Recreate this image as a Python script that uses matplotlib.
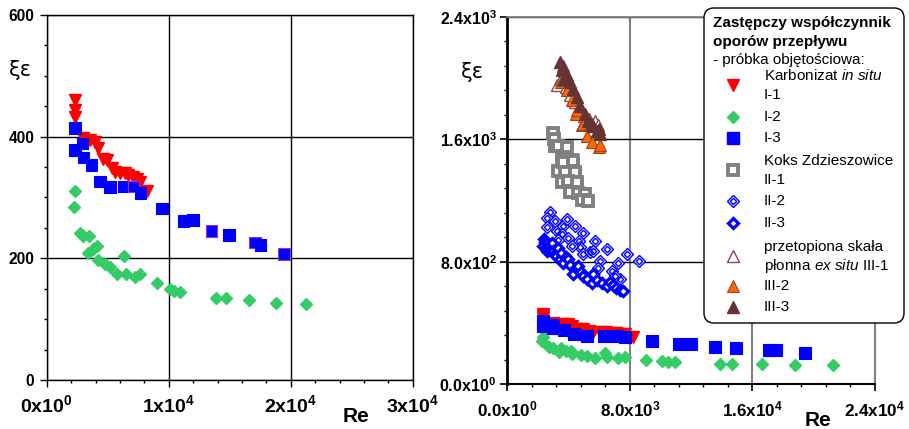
import matplotlib
matplotlib.use('Agg')
import matplotlib.pyplot as plt
from matplotlib.patches import FancyBboxPatch
from matplotlib.ticker import FuncFormatter, MultipleLocator
import numpy as np

plt.rcParams['font.family'] = ['Liberation Sans', 'DejaVu Sans']
plt.rcParams['mathtext.fontset'] = 'custom'
plt.rcParams['mathtext.rm'] = 'Liberation Sans'
plt.rcParams['mathtext.it'] = 'Liberation Sans:italic'
plt.rcParams['mathtext.bf'] = 'Liberation Sans:bold'

# ---------------- data ----------------
# Karbonizat in situ I-1
I1_re = [2300, 2320, 2330, 3000, 3550, 3960, 4230, 4640, 4920, 5330, 5600, 6010, 6420, 6690, 7100, 7380, 7650, 8200]
I1_xi = [460, 444, 432, 397, 395, 392, 381, 364, 362, 348, 342, 340, 340, 337, 334, 331, 326, 310]
# I-2
I2_re = [2320, 2260, 2730, 2950, 3490, 3360, 3820, 4150, 4230, 4780, 5190, 5740, 6340, 6500, 7240, 7650,
         9070, 10100, 10460, 10930, 13850, 14670, 16610, 18800, 21230]
I2_xi = [311, 285, 241, 236, 236, 208, 215, 220, 197, 191, 186, 174, 204, 175, 170, 175,
         159, 149, 147, 145, 134, 135, 132, 127, 125]
# I-3
I3_re = [2320, 2320, 2950, 3000, 3690, 4370, 5190, 6280, 7100, 7700, 9430, 11200, 12000, 13520,
         14940, 17070, 17540, 19450]
I3_xi = [414, 378, 389, 366, 353, 326, 317, 318, 318, 307, 282, 261, 263, 245, 238, 226, 222, 207]
I3_outline = [0, 0, 0, 0, 0, 0, 0, 0, 1, 0, 0, 0, 0, 1, 0, 1, 0, 1]

# Koks Zdzieszowice II-1
II1_re = [2990, 3040, 3100, 3320, 3870, 3540, 4190, 3320, 3750, 4410, 3540, 3970, 4520, 4080,
          4620, 5060, 4850, 5280, 3650, 4300]
II1_xi = [1640, 1602, 1558, 1558, 1550, 1471, 1465, 1394, 1394, 1383, 1320, 1325, 1318, 1254,
          1250, 1243, 1200, 1194, 1449, 1460]
# II-2
II2_re = [2780, 2560, 2560, 3100, 3210, 3650, 3870, 4410, 3540, 3970, 4950, 4690, 5710, 4730,
          4950, 5390, 5600, 6480, 6040, 5930, 7240, 7780, 8590, 6810, 7350, 7020, 3300, 4200]
II2_xi = [1128, 1084, 1027, 1066, 1001, 1033, 1077, 1033, 979, 957, 990, 935, 935, 898,
          848, 863, 870, 885, 804, 761, 793, 848, 808, 738, 688, 710, 940, 900]
# II-3
II3_re = [2400, 2450, 2350, 2500, 2600, 2550, 2700, 2800, 2900, 3000, 3100, 3200, 3300, 3400,
          3500, 3650, 3800, 3970, 4100, 4300, 4450, 4620, 4800, 4950, 5200, 5500, 5600, 5850,
          6150, 6480, 6700, 6910, 7100, 7350, 7560]
II3_xi = [950, 930, 905, 890, 870, 920, 900, 880, 925, 870, 850, 840, 890, 820,
          860, 790, 830, 815, 780, 717, 760, 771, 730, 706, 690, 662, 717, 680,
          662, 640, 670, 651, 630, 618, 607]
# przetopiona skała płonna ex situ III-1
III1_re = [3250, 3500, 3800, 4100, 4400, 4700, 5000, 5350, 5710, 5900]
III1_xi = [1951, 1990, 1940, 1890, 1840, 1790, 1750, 1730, 1722, 1690]
# III-2
III2_re = [3470, 3650, 3870, 4190, 4450, 4520, 4840, 4910, 5210, 5540, 5980, 6040]
III2_xi = [1974, 1984, 1919, 1853, 1766, 1790, 1694, 1700, 1624, 1580, 1547, 1560]
# III-3
III3_re = [3430, 3540, 3870, 4080, 4300, 4520, 4730, 5060, 5280, 5600, 5820, 6040, 3600, 3700, 5450, 5950]
III3_xi = [2105, 2050, 2017, 1974, 1930, 1875, 1820, 1766, 1722, 1689, 1656, 1635, 2080, 1990, 1700, 1670]

# ---------------- styles ----------------
RED = '#FF0000'
GREEN = '#33CC66'
BLUE = '#0000FF'
GREY = '#808080'
ORANGE = '#FF6600'
BROWN = '#663333'
PURPLE = '#9933CC'

fig = plt.figure(figsize=(9.09, 4.29), dpi=100)
W, H = 909, 429

def px_axes(l, t, r, b):
    return fig.add_axes([l / W, 1 - b / H, (r - l) / W, (b - t) / H])

axL = px_axes(46.7, 15, 412.7, 380)
axR = px_axes(507.5, 16.7, 875, 384.3)


def plot_I(ax, outline):
    ax.plot(I1_re, I1_xi, 'v', ms=9.2, mfc=RED, mec=RED, ls='none', zorder=3)
    ax.plot(I2_re, I2_xi, 'D', ms=6.6, mfc=GREEN, mec=GREEN, ls='none', zorder=3)
    if outline:
        ec = [PURPLE if f else BLUE for f in I3_outline]
    else:
        ec = BLUE
    ax.scatter(I3_re, I3_xi, marker='s', s=8.3 ** 2, c=BLUE, edgecolors=ec, linewidths=0.8, zorder=4)


plot_I(axL, True)

axR.plot(III1_re, III1_xi, '^', ms=8.6, mfc='white', mec='#8B4A4A', mew=1, ls='none', zorder=3)
axR.plot(III2_re, III2_xi, '^', ms=8.6, mfc=ORANGE, mec='#994422', mew=0.8, ls='none', zorder=3)
axR.plot(III3_re, III3_xi, '^', ms=8.6, mfc=BROWN, mec=BROWN, ls='none', zorder=3)
axR.plot(II1_re, II1_xi, 's', ms=7.4, mfc='white', mec=GREY, mew=2.8, ls='none', zorder=3)
axR.plot(II2_re, II2_xi, 'D', ms=6.5, mfc='white', mec=BLUE, mew=1.0, ls='none', zorder=3)
axR.plot(II2_re, II2_xi, 'D', ms=3.2, mfc='none', mec=BLUE, mew=1.0, ls='none', zorder=3)
axR.plot(II3_re, II3_xi, 'D', ms=5.4, mfc='white', mec=BLUE, mew=2.3, ls='none', zorder=3)
plot_I(axR, False)


def fmt_int(v, pos):
    if v == 0:
        return r'$\mathbf{0x10^{0}}$'
    e = int(np.floor(np.log10(abs(v)) + 1e-9))
    m = v / 10 ** e
    return r'$\mathbf{%dx10^{%d}}$' % (round(m), e)


def fmt_dec(v, pos):
    if v == 0:
        return r'$\mathbf{0.0x10^{0}}$'
    e = int(np.floor(np.log10(abs(v)) + 1e-9))
    m = v / 10 ** e
    return r'$\mathbf{%.1fx10^{%d}}$' % (m, e)


# left axes
axL.set_xlim(0, 30000)
axL.set_ylim(0, 600)
axL.xaxis.set_major_locator(MultipleLocator(10000))
axL.xaxis.set_minor_locator(MultipleLocator(2000))
axL.yaxis.set_major_locator(MultipleLocator(200))
axL.yaxis.set_minor_locator(MultipleLocator(50))
axL.xaxis.set_major_formatter(FuncFormatter(fmt_int))
axL.yaxis.set_major_formatter(FuncFormatter(lambda v, p: '%d' % v))
axL.grid(which='major', color='black', lw=1.0)
axL.set_axisbelow(True)
for s in ['top', 'right']:
    axL.spines[s].set_color('black')
    axL.spines[s].set_linewidth(1.0)
axL.spines['left'].set_linewidth(1.0)
axL.spines['bottom'].set_linewidth(1.0)
axL.tick_params(axis='x', which='major', direction='out', length=5, width=1, labelsize=14, pad=5)
axL.tick_params(axis='y', which='major', direction='out', length=5, width=1, labelsize=11.2, pad=4)
axL.tick_params(which='minor', direction='out', length=2, width=1)
for t in axL.get_yticklabels():
    t.set_fontweight('bold')

# right axes
axR.set_xlim(0, 24000)
axR.set_ylim(0, 2400)
axR.xaxis.set_major_locator(MultipleLocator(8000))
axR.xaxis.set_minor_locator(MultipleLocator(1600))
axR.yaxis.set_major_locator(MultipleLocator(800))
axR.yaxis.set_minor_locator(MultipleLocator(160))
axR.xaxis.set_major_formatter(FuncFormatter(fmt_dec))
axR.yaxis.set_major_formatter(FuncFormatter(fmt_dec))
axR.xaxis.grid(True, which='major', color=GREY, lw=1.5)
axR.yaxis.grid(True, which='major', color='black', lw=1.0)
axR.set_axisbelow(True)
axR.spines['top'].set_color(GREY)
axR.spines['right'].set_color(GREY)
axR.spines['top'].set_linewidth(1.3)
axR.spines['right'].set_linewidth(1.5)
axR.spines['left'].set_linewidth(2.0)
axR.spines['bottom'].set_linewidth(1.5)
axR.tick_params(axis='x', which='major', direction='out', length=5, width=1.2, labelsize=12.3, pad=6)
axR.tick_params(axis='y', which='major', direction='out', length=5, width=1.2, labelsize=11.5, pad=3)
axR.tick_params(which='minor', direction='out', length=2, width=1)

# axis labels
fig.text(20 / W, 1 - 70 / H, 'ξε', fontsize=15, ha='center', va='center', family=['DejaVu Sans'])
fig.text(472 / W, 1 - 72 / H, 'ξε', fontsize=15, ha='center', va='center', family=['DejaVu Sans'])
fig.text(356 / W, 1 - 417 / H, 'Re', fontsize=15, fontweight='bold', ha='center', va='center')
fig.text(818 / W, 1 - 421 / H, 'Re', fontsize=15, fontweight='bold', ha='center', va='center')

# ---------------- legend ----------------
lax = px_axes(700, 4, 908, 327)
lax.set_xlim(700, 908)
lax.set_ylim(327, 4)
lax.axis('off')
box = FancyBboxPatch((704, 8), 200, 315, boxstyle='round,pad=0,rounding_size=10',
                     fc='white', ec='black', lw=1.0, zorder=1)
lax.add_patch(box)

fs = 11
lax.text(713, 23, 'Zastępczy współczynnik', fontsize=fs, fontweight='bold', va='center', zorder=5)
lax.text(713, 42, 'oporów przepływu', fontsize=fs, fontweight='bold', va='center', zorder=5)
lax.text(713, 60, '- próbka objętościowa:', fontsize=fs, va='center', zorder=5)

mx, tx = 733, 764
entries = [
    (85, ['Karbonizat $\\it{in\\ situ}$', 'I-1'], dict(marker='v', ms=9.2, mfc=RED, mec=RED)),
    (117, ['I-2'], dict(marker='D', ms=6.6, mfc=GREEN, mec=GREEN)),
    (138, ['I-3'], dict(marker='s', ms=9, mfc=BLUE, mec=BLUE)),
    (170, ['Koks Zdzieszowice', 'II-1'], dict(marker='s', ms=7.4, mfc='white', mec=GREY, mew=2.8)),
    (201, ['II-2'], dict(marker='D', ms=6.5, mfc='white', mec=BLUE, mew=1.0)),
    (223, ['II-3'], dict(marker='D', ms=5.4, mfc='white', mec=BLUE, mew=2.3)),
    (256, ['przetopiona skała', 'płonna $\\it{ex\\ situ}$ III-1'], dict(marker='^', ms=8.6, mfc='white', mec='#8B4A4A', mew=1)),
    (286, ['III-2'], dict(marker='^', ms=8.6, mfc=ORANGE, mec='#994422', mew=0.8)),
    (307, ['III-3'], dict(marker='^', ms=8.6, mfc=BROWN, mec=BROWN)),
]
for y, lines, st in entries:
    lax.plot([mx], [y], ls='none', zorder=5, **st)
    if len(lines) == 1:
        lax.text(tx, y, lines[0], fontsize=fs, va='center', zorder=5)
    else:
        lax.text(tx, y - 9, lines[0], fontsize=fs, va='center', zorder=5)
        lax.text(tx, y + 10, lines[1], fontsize=fs, va='center', zorder=5)
lax.plot([mx], [201], ls='none', marker='D', ms=3.2, mfc='none', mec=BLUE, mew=1.0, zorder=6)

fig.savefig('out.png', dpi=100)
